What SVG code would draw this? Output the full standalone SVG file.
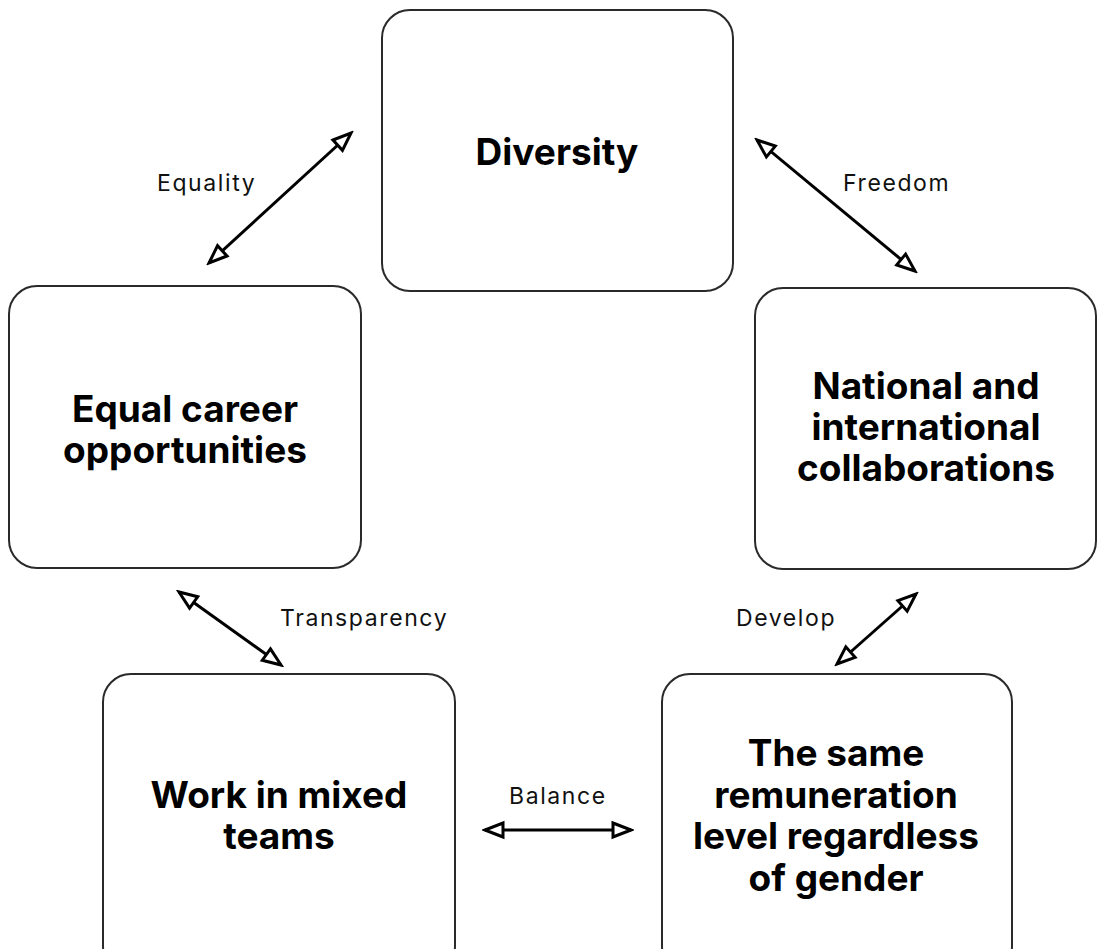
<svg xmlns="http://www.w3.org/2000/svg" width="1097" height="949" viewBox="0 0 1097 949">
  <style>
    .box { fill: #ffffff; stroke: #2a2a2a; stroke-width: 2; }
    .title { font-family: Inter, "Liberation Sans", sans-serif; font-weight: 700; font-size: 37px; fill: #000; text-anchor: middle; }
    .lbl { font-family: Inter, "Liberation Sans", sans-serif; font-size: 23px; letter-spacing: 1.6px; fill: #111; }
    .link { stroke: #000; stroke-width: 3; fill: none; marker-start: url(#head); marker-end: url(#head); }
  </style>
  <defs>
    <marker id="head" viewBox="-2 -2 24 20" refX="19" refY="8" markerWidth="24" markerHeight="20" markerUnits="userSpaceOnUse" orient="auto-start-reverse">
      <path d="M1,1 L19,8 L1,15 Z" fill="#fff" stroke="#000" stroke-width="3" stroke-linejoin="miter"/>
    </marker>
  </defs>
  <rect width="1097" height="949" fill="#ffffff"/>

  <g id="connectors">
    <line class="link" x1="209" y1="263" x2="351" y2="133"/>
    <line class="link" x1="757" y1="140" x2="915" y2="271"/>
    <line class="link" x1="179" y1="592" x2="281" y2="665"/>
    <line class="link" x1="837" y1="664" x2="916" y2="594"/>
    <line class="link" x1="485" y1="830" x2="631" y2="830"/>
    <text class="lbl" x="157" y="191">Equality</text>
    <text class="lbl" x="843" y="191">Freedom</text>
    <text class="lbl" x="280" y="626">Transparency</text>
    <text class="lbl" x="736" y="626">Develop</text>
    <text class="lbl" x="509" y="804">Balance</text>
  </g>

  <g id="diversity">
    <rect class="box" x="382" y="10" width="351" height="281" rx="28"/>
    <text class="title" x="557" y="165">Diversity</text>
  </g>

  <g id="equal-career">
    <rect class="box" x="9" y="286" width="352" height="282" rx="28"/>
    <text class="title" x="185" y="422">Equal career</text>
    <text class="title" x="185" y="463">opportunities</text>
  </g>

  <g id="collaborations">
    <rect class="box" x="755" y="288" width="341" height="281" rx="28"/>
    <text class="title" x="926" y="399">National and</text>
    <text class="title" x="926" y="440">international</text>
    <text class="title" x="926" y="481">collaborations</text>
  </g>

  <g id="mixed-teams">
    <rect class="box" x="103" y="674" width="352" height="300" rx="28"/>
    <text class="title" x="279" y="808">Work in mixed</text>
    <text class="title" x="279" y="849">teams</text>
  </g>

  <g id="remuneration">
    <rect class="box" x="662" y="674" width="350" height="300" rx="28"/>
    <text class="title" x="836" y="766">The same</text>
    <text class="title" x="836" y="808">remuneration</text>
    <text class="title" x="836" y="849">level regardless</text>
    <text class="title" x="836" y="891">of gender</text>
  </g>
</svg>
